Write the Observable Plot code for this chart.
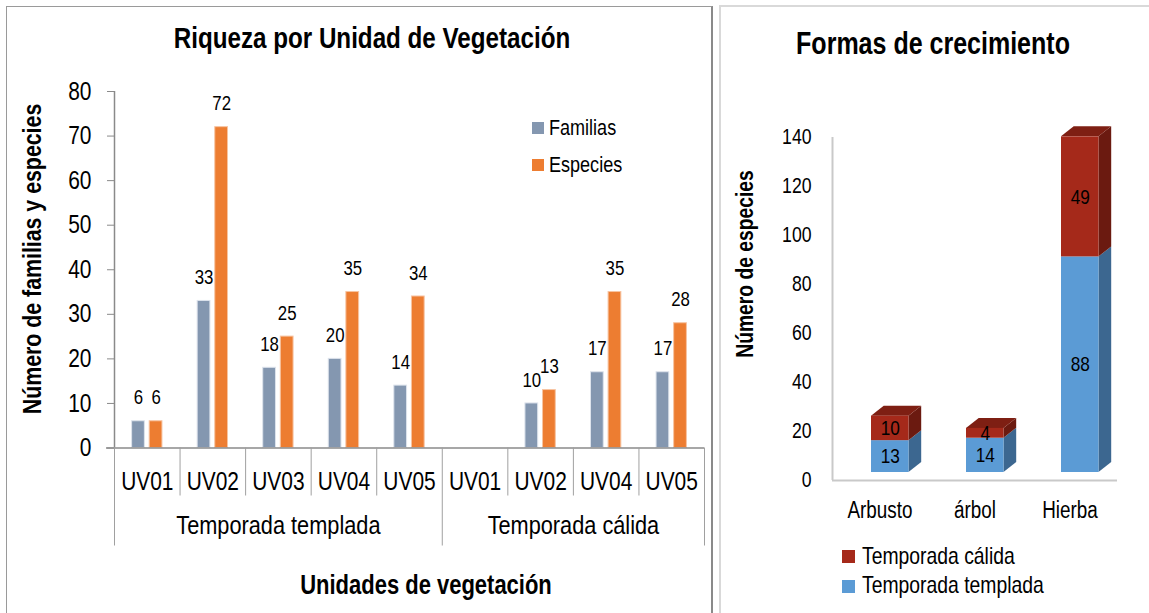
<!DOCTYPE html>
<html>
<head>
<meta charset="utf-8">
<script src="https://cdn.jsdelivr.net/npm/d3@7"></script>
<script src="https://cdn.jsdelivr.net/npm/@observablehq/plot@0.6"></script>
<style>
  html, body { margin: 0; padding: 0; background: #fff; }
  body { width: 1149px; height: 613px; position: relative; overflow: hidden; color: #000; }
  .abs { position: absolute; }
  .t { position: absolute; line-height: 1; white-space: nowrap; }
  .b { font-weight: bold; }
  .sq { position: absolute; }
</style>
</head>
<body>
<div id="frameL" class="abs" style="left:6px;top:6px;width:704px;height:640px;border-left:1px solid #9a9a9a;border-top:1px solid #9a9a9a;border-right:2px solid #8a8a8a;"></div>
<div id="frameR" class="abs" style="left:719px;top:5px;width:440px;height:640px;border-left:2px solid #d9d9d9;border-top:2px solid #d9d9d9;"></div>
<div id="left" class="abs" style="left:0;top:0;"></div>
<div id="right" class="abs" style="left:715px;top:0;"></div>
<div id="labels"></div>

<script>
// ---------- Data: left chart ----------
const categories = ["UV01", "UV02", "UV03", "UV04", "UV05", "UV01", "UV02", "UV04", "UV05"];
const seasons = ["Temporada templada", "Temporada templada", "Temporada templada", "Temporada templada", "Temporada templada",
                 "Temporada cálida", "Temporada cálida", "Temporada cálida", "Temporada cálida"];
const familias = [6, 33, 18, 20, 14, null, 10, 17, 17];
const especies = [6, 72, 25, 35, 34, null, 13, 35, 28];
const seriesNames = ["Familias", "Especies"];
const yTicksLeft = [0, 10, 20, 30, 40, 50, 60, 70, 80];

// ---------- Data: right chart ----------
const formas = ["Arbusto", "árbol", "Hierba"];
const templada = [13, 14, 88];
const calida = [10, 4, 49];
const stackNames = ["Temporada cálida", "Temporada templada"];
const yTicksRight = [0, 20, 40, 60, 80, 100, 120, 140];

// ---------- Font: narrow face if present, otherwise Arial-metric face squeezed ----------
function hasFont(f) {
  const c = document.createElement("canvas").getContext("2d");
  const s = "abcdefghijklmnopqrstuvwxyzABCDEFGHIJ0123456789";
  c.font = "40px monospace"; const a = c.measureText(s).width;
  c.font = `40px "${f}", monospace`; const b = c.measureText(s).width;
  return Math.abs(a - b) > 0.5;
}
let FONT, SQ;
if (hasFont("Liberation Sans Narrow")) { FONT = "'Liberation Sans Narrow', sans-serif"; SQ = 1; }
else if (hasFont("Arial Narrow")) { FONT = "'Arial Narrow', sans-serif"; SQ = 1; }
else { FONT = "'Liberation Sans', Arial, sans-serif"; SQ = 0.82; }
document.body.style.fontFamily = FONT;

function squeezeSvg(svg) {
  if (SQ === 1) return;
  svg.querySelectorAll("text").forEach(el => {
    const w = el.getComputedTextLength();
    if (w > 0) {
      el.setAttribute("textLength", (w * SQ).toFixed(2));
      el.setAttribute("lengthAdjust", "spacingAndGlyphs");
    }
  });
}

const cFam = "#8497B0", cEsp = "#ED7D31";
const cRed = "#A5291A", cRedSide = "#6B1A10", cRedTop = "#7E1F13";
const cBlue = "#5B9BD5", cBlueSide = "#3C6790";

// ---------- Left chart ----------
const rowsF = familias.map((v, i) => ({i, value: v})).filter(d => d.value != null);
const rowsE = especies.map((v, i) => ({i, value: v})).filter(d => d.value != null);
const n = categories.length;
const groupNames = [...new Set(seasons)];
const groups = groupNames.map(g => {
  const idx = seasons.map((s, i) => s === g ? i : -1).filter(i => i >= 0);
  return {name: g, start: d3.min(idx), end: d3.max(idx) + 1};
});
const boundaries = d3.range(0, n + 1);
const groupBounds = [...new Set(groups.flatMap(g => [g.start, g.end]))];
const innerBounds = boundaries.filter(b => !groupBounds.includes(b));

const W1 = 715, H1 = 613;
const left = Plot.plot({
  width: W1, height: H1,
  marginLeft: 114, marginRight: 11, marginTop: 91, marginBottom: 165.5,
  style: {fontFamily: FONT, fontSize: "25px", background: "transparent", overflow: "visible", color: "#000"},
  x: {type: "linear", domain: [0, n]},
  y: {domain: [0, 80]},
  marks: [
    Plot.rectY(rowsF, {x1: d => d.i, x2: d => d.i + 1, y: "value", fill: cFam,
      insetLeft: 17.6, insetRight: 35.2, stroke: "#dde3ec", strokeWidth: 1}),
    Plot.rectY(rowsE, {x1: d => d.i, x2: d => d.i + 1, y: "value", fill: cEsp,
      insetLeft: 35.2, insetRight: 17.6, stroke: "#f7c4a2", strokeWidth: 1}),
    Plot.text(rowsF, {x: d => d.i + 0.5, y: "value", text: d => String(d.value), dx: -8.8, dy: -23.5, fontSize: 20.5}),
    Plot.text(rowsE, {x: d => d.i + 0.5, y: "value", text: d => String(d.value), dx: 8.8, dy: -23.5, fontSize: 20.5}),
    Plot.axisY({ticks: yTicksLeft, tickSize: 7, tickPadding: 16, stroke: "#8a8a8a", fontSize: 25.5, label: null}),
    Plot.ruleX([0], {stroke: "#8a8a8a", strokeWidth: 1.5}),
    Plot.ruleY([0], {stroke: "#8a8a8a", strokeWidth: 1.5, insetLeft: -8}),
    Plot.axisX({ticks: innerBounds, tickSize: 48, tickFormat: () => "", stroke: "#a0a0a0", label: null}),
    Plot.axisX({ticks: groupBounds, tickSize: 98, tickFormat: () => "", stroke: "#a0a0a0", label: null}),
    Plot.axisX({ticks: d3.range(n).map(i => i + 0.5), tickSize: 0, tickPadding: 24,
      tickFormat: d => categories[Math.floor(d)], fontSize: 25.5, label: null}),
    Plot.axisX({ticks: groups.map(g => (g.start + g.end) / 2), tickSize: 0, tickPadding: 67,
      tickFormat: (d, k) => groups[k].name, fontSize: 26.5, label: null})
  ]
});
document.getElementById("left").appendChild(left);
squeezeSvg(left);

// ---------- Right chart ----------
const W2 = 434, H2 = 613, mL2 = 117, mR2 = 32, mT2 = 137, mB2 = 133;
const bandPx = (W2 - mL2 - mR2) / formas.length;
const pxPerY = (H2 - mT2 - mB2) / 140;
const insL = 39, insR = 18.5, depthX = 12.7 / bandPx, depthY = 10 / pxPerY, lift = -8;

const segs = [];
formas.forEach((f, i) => {
  segs.push({i, key: f + "-t", lo: 0, hi: templada[i], v: templada[i], front: cBlue, side: cBlueSide});
  segs.push({i, key: f + "-c", lo: templada[i], hi: templada[i] + calida[i], v: calida[i], front: cRed, side: cRedSide, top: true});
});
const xr = d => d.i + 0.5 - insR / bandPx;
const xl = d => d.i - 0.5 + insL / bandPx;
const sidePts = segs.flatMap(d => [
  {key: d.key, x: xr(d), y1: d.lo, y2: d.hi, fill: d.side},
  {key: d.key, x: xr(d) + depthX, y1: d.lo + depthY, y2: d.hi + depthY, fill: d.side}
]);
const topPts = segs.filter(d => d.top).flatMap(d => [
  {key: d.key, y: d.hi, x1: xl(d), x2: xr(d)},
  {key: d.key, y: d.hi + depthY, x1: xl(d) + depthX, x2: xr(d) + depthX}
]);

const right = Plot.plot({
  width: W2, height: H2,
  marginLeft: mL2, marginRight: mR2, marginTop: mT2, marginBottom: mB2,
  style: {fontFamily: FONT, fontSize: "22px", background: "transparent", overflow: "visible", color: "#000"},
  x: {type: "linear", domain: [-0.5, formas.length - 0.5]},
  y: {domain: [0, 140]},
  marks: [
    Plot.ruleX([-0.5], {stroke: "#c9c9c9", strokeWidth: 2}),
    Plot.ruleY([0], {stroke: "#c9c9c9", strokeWidth: 2}),
    Plot.areaY(sidePts, {x: "x", y1: "y1", y2: "y2", z: "key", fill: "fill", dy: lift}),
    Plot.areaX(topPts, {y: "y", x1: "x1", x2: "x2", z: "key", fill: cRedTop, dy: lift}),
    Plot.rect(segs, {x1: d => d.i - 0.5, x2: d => d.i + 0.5, y1: "lo", y2: "hi", fill: "front",
      insetLeft: insL, insetRight: insR, dy: lift}),
    Plot.text(segs, {x: "i", y: d => (d.lo + d.hi) / 2, text: d => String(d.v),
      dx: (insL - insR) / 2, dy: lift, fontSize: 21}),
    Plot.axisY({ticks: yTicksRight, tickSize: 0, tickPadding: 21, fontSize: 21.5, label: null}),
    Plot.axisX({ticks: d3.range(formas.length), tickSize: 0, tickPadding: 21.5,
      tickFormat: d => formas[d], fontSize: 23, label: null})
  ]
});
document.getElementById("right").appendChild(right);
squeezeSvg(right);

// ---------- Titles, axis titles, legends (HTML text) ----------
const labels = document.getElementById("labels");
function label(txt, x, y, size, opts = {}) {
  const el = document.createElement("div");
  el.className = "t" + (opts.bold ? " b" : "");
  el.textContent = txt;
  el.style.left = x + "px";
  el.style.top = y + "px";
  el.style.fontSize = size + "px";
  if (opts.anchor === "start") {
    el.style.transformOrigin = "0 50%";
    el.style.transform = `translate(0,-50%) scaleX(${SQ})`;
  } else if (opts.rotate) {
    el.style.transform = `translate(-50%,-50%) rotate(-90deg) scaleX(${SQ})`;
  } else {
    el.style.transform = `translate(-50%,-50%) scaleX(${SQ})`;
  }
  labels.appendChild(el);
  return el;
}
function square(x, y, s, c) {
  const el = document.createElement("div");
  el.className = "sq";
  Object.assign(el.style, {left: x + "px", top: (y - s / 2) + "px", width: s + "px", height: s + "px", background: c});
  labels.appendChild(el);
}

label("Riqueza por Unidad de Vegetación", 372, 38, 29.5, {bold: true});
label("Número de familias y especies", 32, 259, 26, {bold: true, rotate: true});
label("Unidades de vegetación", 426, 585, 26.8, {bold: true});
[[cFam, 128], [cEsp, 164.5]].forEach(([c, y], k) => {
  square(532, y, 12, c);
  label(seriesNames[k], 549, y, 22, {anchor: "start"});
});

label("Formas de crecimiento", 933, 43, 30.5, {bold: true});
label("Número de especies", 746, 264, 23.5, {bold: true, rotate: true});
[[cRed, 556.5], [cBlue, 586]].forEach(([c, y], k) => {
  square(842, y, 13, c);
  label(stackNames[k], 862, y, 23.6, {anchor: "start"});
});
</script>
</body>
</html>
